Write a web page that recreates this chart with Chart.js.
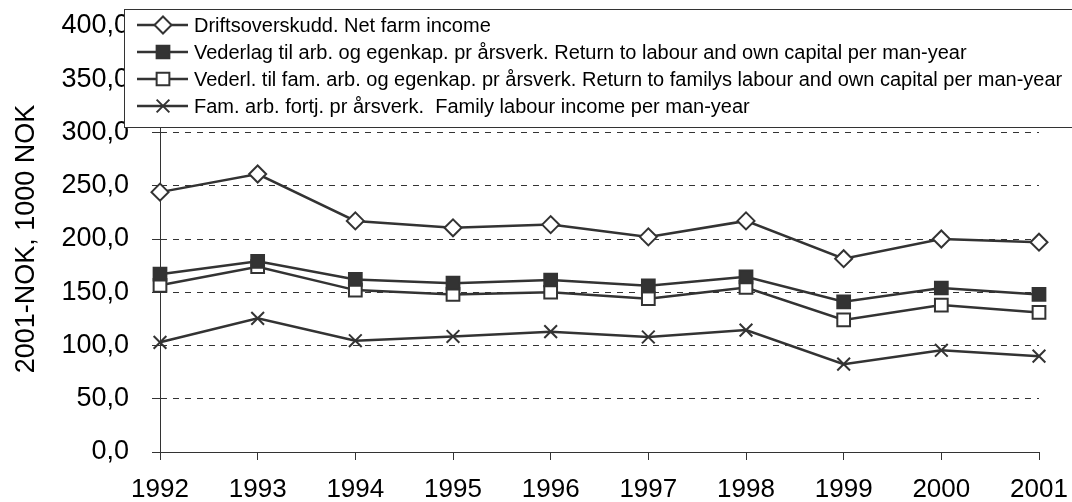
<!DOCTYPE html>
<html>
<head>
<meta charset="utf-8">
<script src="https://cdn.jsdelivr.net/npm/chart.js"></script>
<style>
  html, body { margin: 0; padding: 0; background: #fff; }
  #wrap { width: 1072px; height: 502px; position: relative; }
</style>
</head>
<body>
<div id="wrap"><canvas id="chart"></canvas></div>
<script>
const years = ['1992', '1993', '1994', '1995', '1996', '1997', '1998', '1999', '2000', '2001'];

const netFarmIncome    = [244, 261, 217, 210.5, 213.5, 202, 217, 181.5, 200, 197];
const returnLabourCap  = [167, 179, 162, 158.5, 161.5, 156, 164.5, 141, 154, 148];
const returnFamilyCap  = [156.5, 174, 152, 148, 150, 144, 154.5, 124, 138, 131];
const familyLabourInc  = [103, 125.5, 104.5, 108.5, 113, 108, 114.5, 82.5, 95.5, 90];

const seriesLabels = [
  'Driftsoverskudd. Net farm income',
  'Vederlag til arb. og egenkap. pr årsverk. Return to labour and own capital per man-year',
  'Vederl. til fam. arb. og egenkap. pr årsverk. Return to familys labour and own capital per man-year',
  'Fam. arb. fortj. pr årsverk.  Family labour income per man-year',
];

const FONT = "'Liberation Sans', Arial, sans-serif";
const INK  = '#333333';

function series(label, data, style, fill, radius) {
  return {
    label,
    data,
    borderColor:          INK,
    borderWidth:          2.5,
    pointStyle:           style,
    pointRadius:          radius,
    pointBorderWidth:     2,
    pointBorderColor:     INK,
    pointBackgroundColor: fill,
    tension:              0,
  };
}

// legend box drawn by hand: line through marker, then text
const boxLegend = {
  id: 'boxLegend',
  afterDraw(chart) {
    const ctx = chart.ctx;
    const left = 124.5, top = 9.5, w = 1000, h = 118;
    ctx.save();
    ctx.fillStyle = '#fff';
    ctx.fillRect(left, top, w, h);
    ctx.strokeStyle = INK;
    ctx.lineWidth = 1;
    ctx.strokeRect(left, top, w, h);

    ctx.font = '20px ' + FONT;
    ctx.textBaseline = 'middle';
    ctx.textAlign = 'left';
    chart.data.datasets.forEach((ds, i) => {
      const y = 25 + i * 27;
      ctx.strokeStyle = INK;
      ctx.lineWidth = 2.5;
      ctx.beginPath();
      ctx.moveTo(137, y);
      ctx.lineTo(188, y);
      ctx.stroke();
      ctx.fillStyle = ds.pointBackgroundColor;
      ctx.strokeStyle = INK;
      ctx.lineWidth = 2;
      Chart.helpers.drawPoint(ctx, {
        pointStyle: ds.pointStyle, radius: ds.pointRadius, borderWidth: 2, rotation: 0,
      }, 163, y);
      ctx.fillStyle = '#000';
      ctx.fillText(ds.label, 194, y + 1);
    });
    ctx.restore();
  },
};

new Chart(document.getElementById('chart'), {
  type: 'line',
  data: {
    labels: years,
    datasets: [
      series(seriesLabels[0], netFarmIncome,   'rectRot',  '#ffffff', 8.5),
      series(seriesLabels[1], returnLabourCap, 'rect',     INK,       9),
      series(seriesLabels[2], returnFamilyCap, 'rect',     '#ffffff', 9),
      series(seriesLabels[3], familyLabourInc, 'crossRot', '#ffffff', 9),
    ],
  },
  options: {
    responsive: true,
    maintainAspectRatio: false,
    animation: false,
    layout: { padding: { top: 26, right: 33, left: 0, bottom: 0 } },
    scales: {
      x: {
        offset: false,
        afterFit: s => { s.height = 50; s.paddingLeft = 0; s.paddingRight = 0; },
        grid:   { drawOnChartArea: false, drawTicks: true, tickLength: 8, tickColor: INK, tickWidth: 1 },
        border: { color: INK, width: 1 },
        ticks:  { color: '#000', font: { family: FONT, size: 26 }, padding: 14, maxRotation: 0, autoSkip: false },
      },
      y: {
        min: 0,
        max: 400,
        afterFit: s => { s.width = 160; s.paddingTop = 0; s.paddingBottom = 0; },
        grid:   { color: INK, lineWidth: 1, tickLength: 8, tickColor: INK, tickBorderDash: [] },
        border: { color: INK, width: 1, dash: [6, 6] },
        ticks:  {
          stepSize: 50,
          color: '#000',
          padding: 23,
          font: { family: FONT, size: 27 },
          callback: v => v.toFixed(1).replace('.', ','),
        },
        title: {
          display: true,
          text: '2001-NOK, 1000 NOK',
          color: '#000',
          font: { family: FONT, size: 27 },
          padding: { top: 10, bottom: 0 },
        },
      },
    },
    plugins: {
      legend:  { display: false },
      tooltip: { enabled: false },
    },
  },
  plugins: [boxLegend],
});
</script>
</body>
</html>
